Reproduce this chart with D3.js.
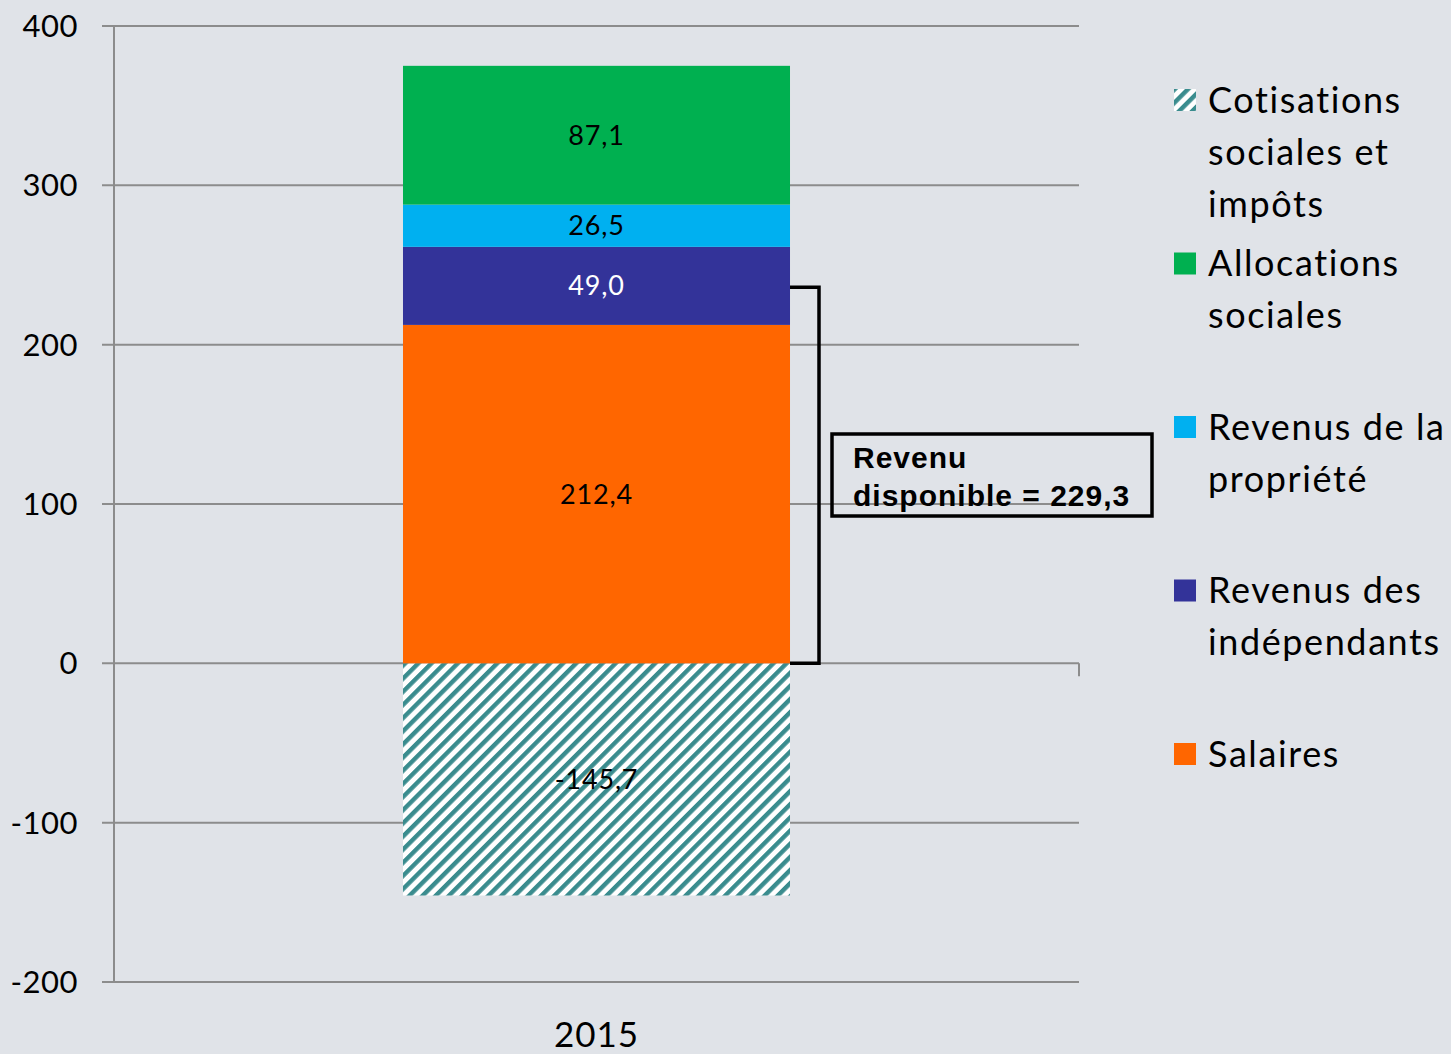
<!DOCTYPE html>
<html>
<head>
<meta charset="utf-8">
<script src="https://cdn.jsdelivr.net/npm/d3@7"></script>
<style>
  html, body { margin: 0; padding: 0; background: #e0e3e8; }
  svg { display: block; }
</style>
</head>
<body>
<div id="container"></div>
<script>
// DATA

const categories = ["2015"]
const seriesNames = ["Salaires", "Revenus des indépendants", "Revenus de la propriété", "Allocations sociales"]
const seriesValues = [212.4, 49.0, 26.5, 87.1]
const negativeName = "Cotisations sociales et impôts"
const negativeValue = -145.7
const yTicks = [-200, -100, 0, 100, 200, 300, 400]
const legendLines = [
  ["Cotisations", "sociales et", "impôts"],
  ["Allocations", "sociales"],
  ["Revenus de la", "propriété"],
  ["Revenus des", "indépendants"],
  ["Salaires"]
]
const annotationLines = ["Revenu", "disponible = 229,3"]
const bracketTop = 236

// VARIABLES

const width = 1451,
      height = 1054,
      margin = {top: 26, bottom: 72, left: 114, right: 372}

const colors = {
  "Salaires": "#ff6600",
  "Revenus des indépendants": "#333399",
  "Revenus de la propriété": "#00b0f0",
  "Allocations sociales": "#00b050"
}
const labelColors = {
  "Salaires": "#000",
  "Revenus des indépendants": "#fff",
  "Revenus de la propriété": "#000",
  "Allocations sociales": "#000"
}
const fmt = v => d3.format(".1f")(v).replace(".", ",").replace("\u2212", "-")
const sansFont = "Lato, 'Open Sans', sans-serif"

// SCALES

const yScale = d3.scaleLinear()
    .domain([-200, 400])
    .range([height - margin.bottom, margin.top])

const xScale = d3.scaleBand()
    .domain(categories)
    .range([margin.left, width - margin.right])
    .padding(0.4275)

// ELEMENTS

const svg = d3.select("#container")
  .append("svg")
    .attr("width", width)
    .attr("height", height)

const defs = svg.append("defs")
const pat = defs.append("pattern")
    .attr("id", "hatch")
    .attr("patternUnits", "userSpaceOnUse")
    .attr("width", 9.3)
    .attr("height", 9.3)
    .attr("patternTransform", "rotate(45)")
pat.append("rect").attr("width", 9.3).attr("height", 9.3).attr("fill", "#fff")
pat.append("rect").attr("x", 0).attr("width", 4.4).attr("height", 9.3).attr("fill", "#3a8c8e")

// gridlines
const gridX0 = margin.left - 12, gridX1 = width - margin.right
svg.append("g")
  .selectAll("line")
  .data(yTicks)
  .join("line")
    .attr("x1", gridX0)
    .attr("x2", gridX1)
    .attr("y1", d => yScale(d))
    .attr("y2", d => yScale(d))
    .attr("stroke", "#8c8c8c")
    .attr("stroke-width", 2)

// y axis
svg.append("line")
    .attr("x1", margin.left).attr("x2", margin.left)
    .attr("y1", yScale(400)).attr("y2", yScale(-200))
    .attr("stroke", "#8c8c8c")
    .attr("stroke-width", 2)

// category tick at the right end of the zero line
svg.append("line")
    .attr("x1", gridX1).attr("x2", gridX1)
    .attr("y1", yScale(0)).attr("y2", yScale(0) + 13)
    .attr("stroke", "#8c8c8c")
    .attr("stroke-width", 2)

svg.append("g")
  .selectAll("text")
  .data(yTicks)
  .join("text")
    .attr("x", 78)
    .attr("y", d => yScale(d))
    .attr("dy", "0.35em")
    .attr("text-anchor", "end")
    .attr("font-family", sansFont)
    .attr("font-size", 31)
    .attr("letter-spacing", 0.5)
    .attr("fill", "#000")
    .text(d => d)

svg.append("text")
    .attr("x", xScale("2015") + xScale.bandwidth() / 2)
    .attr("y", 1047)
    .attr("text-anchor", "middle")
    .attr("font-family", sansFont)
    .attr("font-size", 35)
    .attr("letter-spacing", 1)
    .attr("fill", "#000")
    .text(categories[0])

// SELECT-JOIN-DRAW

const ends = d3.cumsum(seriesValues)
const stacked = seriesNames.map((name, i) => ({
  name,
  value: seriesValues[i],
  y0: ends[i] - seriesValues[i],
  y1: ends[i]
}))

const bx = xScale("2015"), bw = xScale.bandwidth()

svg.append("rect")
    .attr("x", bx)
    .attr("width", bw)
    .attr("y", yScale(0))
    .attr("height", yScale(negativeValue) - yScale(0))
    .attr("fill", "url(#hatch)")

svg.selectAll(".seg")
  .data(stacked)
  .join("rect")
    .attr("class", "seg")
    .attr("x", bx)
    .attr("width", bw)
    .attr("y", d => yScale(d.y1))
    .attr("height", d => yScale(d.y0) - yScale(d.y1))
    .attr("fill", d => colors[d.name])

svg.selectAll(".seglabel")
  .data(stacked)
  .join("text")
    .attr("class", "seglabel")
    .attr("x", bx + bw / 2)
    .attr("y", d => yScale((d.y0 + d.y1) / 2))
    .attr("dy", "0.35em")
    .attr("text-anchor", "middle")
    .attr("font-family", sansFont)
    .attr("font-size", 27)
    .attr("letter-spacing", 0.8)
    .attr("fill", d => labelColors[d.name])
    .text(d => fmt(d.value))

svg.append("text")
    .attr("x", bx + bw / 2)
    .attr("y", yScale(negativeValue / 2))
    .attr("dy", "0.35em")
    .attr("text-anchor", "middle")
    .attr("font-family", sansFont)
    .attr("font-size", 27)
    .attr("letter-spacing", 0.8)
    .attr("fill", "#000")
    .text(fmt(negativeValue))

// bracket + annotation
const bR = bx + bw + 29
svg.append("path")
    .attr("d", `M${bx + bw},${yScale(bracketTop)} H${bR} V${yScale(0)} H${bx + bw}`)
    .attr("fill", "none")
    .attr("stroke", "#000")
    .attr("stroke-width", 3.5)

svg.append("rect")
    .attr("x", 832).attr("y", 434)
    .attr("width", 320).attr("height", 82)
    .attr("fill", "none")
    .attr("stroke", "#000")
    .attr("stroke-width", 3.5)

svg.append("text")
    .attr("font-family", "'Liberation Sans', Arial, sans-serif")
    .attr("font-weight", "bold")
    .attr("font-size", 30)
    .attr("letter-spacing", 1)
    .attr("fill", "#000")
  .selectAll("tspan")
  .data(annotationLines)
  .join("tspan")
    .attr("x", 853)
    .attr("y", (d, i) => 468 + i * 38)
    .text(d => d)

// LEGEND

const legendKeys = [negativeName, "Allocations sociales", "Revenus de la propriété", "Revenus des indépendants", "Salaires"]
const legend = svg.append("g")
  .selectAll("g")
  .data(legendKeys)
  .join("g")
    .attr("transform", (d, i) => `translate(1174,${100 + i * 163.5})`)

legend.append("rect")
    .attr("x", 0).attr("y", -11)
    .attr("width", 22).attr("height", 22)
    .attr("fill", d => d === negativeName ? "url(#hatch)" : colors[d])

legend.append("text")
    .attr("font-family", sansFont)
    .attr("font-size", 36)
    .attr("letter-spacing", 1.6)
    .attr("fill", "#000")
  .selectAll("tspan")
  .data((d, i) => legendLines[i])
  .join("tspan")
    .attr("x", 34)
    .attr("y", (d, i) => i * 52)
    .attr("dy", "0.35em")
    .text(d => d)
</script>
</body>
</html>
